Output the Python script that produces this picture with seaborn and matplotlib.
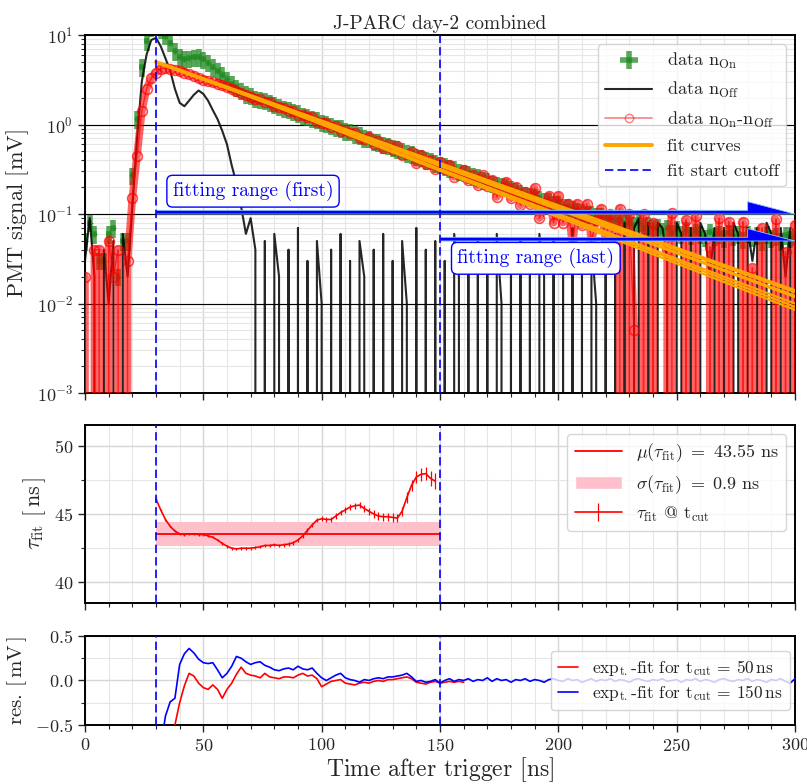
import numpy as np
import pandas as pd
import matplotlib
matplotlib.use("Agg")
import matplotlib.pyplot as plt
import seaborn as sns
from matplotlib.lines import Line2D
from matplotlib.ticker import MultipleLocator, FuncFormatter, LogLocator, NullFormatter

sns.set_theme(style="ticks")
plt.rcParams['font.family'] = ['cmr10', 'DejaVu Serif']
plt.rcParams['mathtext.fontset'] = 'cm'
plt.rcParams['axes.formatter.use_mathtext'] = True
plt.rcParams['axes.edgecolor'] = 'black'
plt.rcParams['axes.linewidth'] = 1.4

# ---- top panel: PMT signal, sampled every 2 ns ----
t_signal = np.arange(0, 302, 2)
n_off = [0.03, 0.09, 0.02, -0.01, 0.04, 0.01, 0.05, -0.02, 0.06, 0.02,
         0.12, 0.7, 3.0, 6.0, 8.8, 9.3, 7.5, 5.5, 4.0, 2.5,
         1.75, 1.6, 1.85, 2.15, 2.4, 2.2, 1.85, 1.45, 1.15, 0.85,
         0.6, 0.35, 0.22, 0.12, 0.06, 0.09, 0.04,
         -0.01, 0.05, -0.02, 0.06, 0.02, -0.03, 0.04, -0.01, 0.07, -0.02,
         0.03, -0.04, 0.05, 0.01, -0.02, 0.04, -0.03, 0.06, -0.01, 0.03,
         -0.02, 0.05, 0.02, -0.03, 0.04, -0.01, 0.06, -0.02, 0.03, -0.04,
         0.05, 0.01, -0.02, 0.07, -0.03, 0.04, -0.01, 0.05, -0.02, 0.03,
         -0.03, 0.06, 0.02, -0.02, 0.04, -0.01, 0.05, -0.03, 0.03, -0.02,
         0.06, 0.01, -0.03, 0.04, -0.02, 0.05, -0.01, 0.03, -0.04, 0.06,
         0.02, -0.02, 0.05, -0.03, 0.04, -0.01, 0.07, -0.02, 0.03, -0.03,
         0.05, 0.01, -0.02, 0.04, -0.01, 0.06,
         -0.03, 0.08, -0.02, 0.07, 0.09, -0.03, 0.08, -0.01, 0.08, 0.07,
         0.03, -0.04, 0.08, 0.06, -0.02, 0.07, -0.03, 0.08, 0.06, 0.02,
         0.07, -0.03, 0.07, -0.02, 0.08, 0.06, -0.03, 0.07, 0.03, 0.07,
         -0.02, 0.08, 0.06, -0.03, 0.07, 0.02, 0.07, -0.02]
n_on = [0.05, 0.08, 0.06, 0.03, 0.03, 0.06, 0.07, 0.02, 0.05, 0.05,
        0.27, 1.15, 4.4, 8.5, 12.1, 13.1, 11.7, 9.8, 8.2, 6.6,
        5.7, 5.4, 5.5, 5.65, 5.7, 5.35, 4.9, 4.4, 4.0, 3.6,
        3.2, 2.85, 2.6, 2.4, 2.2, 2.1, 1.95,
        1.90, 1.84, 1.76, 1.66, 1.60, 1.51, 1.47, 1.39, 1.35, 1.27,
        1.23, 1.16, 1.13, 1.06, 1.03, 0.98, 0.93, 0.91, 0.85, 0.83,
        0.78, 0.76, 0.71, 0.70, 0.65, 0.64, 0.60, 0.58, 0.55, 0.53,
        0.51, 0.48, 0.47, 0.44, 0.43, 0.40, 0.395, 0.37, 0.36, 0.345,
        0.325, 0.32, 0.30, 0.29, 0.28, 0.265, 0.26, 0.24, 0.235, 0.22,
        0.215, 0.205, 0.20, 0.19, 0.18, 0.175, 0.165, 0.16, 0.155, 0.15,
        0.14, 0.14, 0.13, 0.13, 0.12, 0.12, 0.115, 0.11, 0.105, 0.10,
        0.10, 0.095, 0.095, 0.09, 0.09, 0.085,
        0.085, 0.08, 0.08, 0.075, 0.08, 0.07, 0.075, 0.07, 0.072, 0.065,
        0.07, 0.062, 0.068, 0.06, 0.066, 0.058, 0.064, 0.06, 0.055, 0.063,
        0.057, 0.06, 0.054, 0.062, 0.056, 0.06, 0.052, 0.061, 0.055, 0.058,
        0.05, 0.06, 0.054, 0.057, 0.05, 0.058, 0.053, 0.056]
on_rel_err = 0.22
n_diff = np.array(n_on) - np.array(n_off)

# fit curves: start time, value at start, value at 300 ns
fit_start = [30, 50, 70, 90, 110, 130, 150]
fit_start_val = [5.0, 3.2, 2.05, 1.31, 0.843, 0.541, 0.347]
fit_end_val = [0.0138, 0.0100, 0.0085, 0.0092, 0.0122, 0.0118, 0.0135]
cut_lines = [30, 150]

# ---- middle panel: fitted decay time vs cut ----
t_cut = np.arange(30, 150, 2)
tau_fit = [46.1, 45.3, 44.6, 44.1, 43.75, 43.55, 43.5, 43.55, 43.55, 43.5,
           43.5, 43.4, 43.3, 43.1, 42.85, 42.65, 42.5, 42.45, 42.5, 42.5,
           42.5, 42.55, 42.6, 42.7, 42.7, 42.75, 42.7, 42.75, 42.8, 42.9,
           43.1, 43.4, 43.8, 44.2, 44.55, 44.65, 44.6, 44.6, 44.85, 45.1,
           45.3, 45.5, 45.6, 45.65, 45.4, 45.2, 45.0, 44.85, 44.8, 44.8,
           44.75, 44.7, 45.2, 46.2, 47.1, 47.7, 47.9, 47.95, 47.6, 47.4]
tau_err = [0.12, 0.10, 0.09, 0.08, 0.08, 0.08, 0.08, 0.08, 0.08, 0.08,
           0.08, 0.09, 0.09, 0.09, 0.09, 0.10, 0.10, 0.10, 0.10, 0.11,
           0.11, 0.11, 0.12, 0.12, 0.12, 0.12, 0.13, 0.13, 0.13, 0.14,
           0.14, 0.15, 0.15, 0.16, 0.16, 0.18, 0.18, 0.19, 0.19, 0.20,
           0.21, 0.22, 0.23, 0.24, 0.25, 0.25, 0.26, 0.27, 0.28, 0.29,
           0.30, 0.32, 0.34, 0.37, 0.40, 0.43, 0.46, 0.50, 0.55, 0.60]
tau_mean = 43.55
tau_sigma = 0.9

# ---- bottom panel: residuals ----
t_res_150 = np.arange(32, 302, 2)
res_150 = [-0.75, -0.40, -0.24, -0.20, 0.18, 0.30, 0.36, 0.31, 0.24, 0.20,
           0.19, 0.20, 0.12, 0.03, 0.08, 0.16, 0.27, 0.25, 0.21, 0.18,
           0.20, 0.21, 0.17, 0.15, 0.12, 0.11, 0.13, 0.14, 0.12, 0.16,
           0.13, 0.12, 0.14, 0.08, 0.03, 0.00, 0.03, 0.06, 0.08, 0.03,
           0.01, 0.00, -0.02, 0.01, 0.00, 0.02, 0.03, 0.02, 0.04, 0.04,
           0.05, 0.06, 0.08, 0.04, -0.01, 0.00, -0.02, -0.01, 0.01, -0.03,
           0.00, 0.02, -0.01, 0.01, 0.00, 0.02, -0.01, 0.01, 0.00, 0.03,
           -0.01, 0.02, 0.00, 0.01, -0.02, 0.01, 0.00, 0.02, -0.01, 0.01,
           0.00, -0.02, 0.01, 0.02, 0.00, -0.01, 0.02, 0.00, 0.01, -0.02,
           0.00, 0.02, -0.01, 0.01, 0.00, 0.02, -0.01, 0.01, 0.00, -0.02,
           0.01, 0.02, 0.00, -0.01, 0.01, 0.00, 0.02, -0.01, 0.00, 0.01,
           -0.02, 0.01, 0.00, 0.02, -0.01, 0.01, 0.00, -0.02, 0.01, 0.02,
           0.00, -0.01, 0.01, 0.00, 0.02, -0.01, 0.01, 0.00, -0.02, 0.01,
           0.00, 0.02, -0.01, -0.03, 0.02]
t_res_50 = np.arange(36, 162, 2)
res_50 = [-0.75, -0.50, -0.25, -0.06, 0.08, 0.05, -0.03, -0.08, -0.10, -0.05,
          -0.10, -0.20, -0.10, -0.03, 0.07, 0.15, 0.08, 0.06, 0.05, 0.03,
          0.08, 0.04, 0.03, 0.02, 0.04, 0.04, 0.03, 0.06, 0.08, 0.05,
          0.06, 0.02, -0.07, -0.04, -0.01, 0.00, 0.01, -0.03, -0.04, -0.05,
          -0.03, -0.02, -0.03, -0.01, 0.00, -0.01, 0.01, 0.01, 0.02, 0.03,
          0.04, 0.02, -0.02, -0.03, -0.04, -0.02, -0.01, -0.03, -0.02, -0.01,
          -0.02, -0.01, -0.02]

fig = plt.figure(figsize=(8.07, 7.84), dpi=100)
ax1 = fig.add_axes([0.1053, 0.4987, 0.8798, 0.4566])
ax2 = fig.add_axes([0.1053, 0.2309, 0.8798, 0.2270], sharex=ax1)
ax3 = fig.add_axes([0.1053, 0.0753, 0.8798, 0.1135], sharex=ax1)

# top panel
eb = ax1.errorbar(t_signal, n_on, xerr=1.0, yerr=on_rel_err * np.array(n_on),
                  fmt='+', color='forestgreen', alpha=0.75, ms=5, lw=2.5,
                  elinewidth=4.0, zorder=2)
sns.lineplot(x=t_signal, y=n_off, color='black', lw=1.5, alpha=0.85,
             estimator=None, sort=False, ax=ax1, zorder=3)
off_line = ax1.lines[-1]
# dense band of the subtracted trace, then the open-circle samples on top
sns.lineplot(x=t_signal, y=n_diff, color='red', lw=5.5, alpha=0.6,
             estimator=None, sort=False, ax=ax1, zorder=4)
sns.lineplot(x=t_signal, y=n_diff, color='red', lw=1.0, alpha=0.7,
             marker='o', markersize=7, markerfacecolor='none',
             markeredgecolor='red', markeredgewidth=1.2,
             estimator=None, sort=False, ax=ax1, zorder=4.1)
diff_handle = Line2D([], [], color='red', alpha=0.5, lw=1.2, marker='o', ms=6,
                     mfc='none', mec='red')
fit_lines = []
for i, (ts, vs, ve) in enumerate(zip(fit_start, fit_start_val, fit_end_val)):
    ln, = ax1.plot([ts, 300], [vs, ve], color='orange',
                   lw=2.8 if i == 0 else 1.6, zorder=5)
    fit_lines.append(ln)
ax1.set_yscale('log')
ax1.set_ylim(1e-3, 1e1)
ax1.set_xlim(0, 300)
for lv in [1.0, 0.1, 0.01]:
    ax1.axhline(lv, color='black', lw=0.8, zorder=1.5)

# fitting range arrows (upper half-head)
for x0, y0 in [(30, 0.1), (150, 0.05)]:
    ax1.arrow(x0, y0, 300 - x0, 0, width=0.2 * y0, head_width=0.75 * y0,
              head_length=20, length_includes_head=True, shape='right',
              fc='blue', ec='lightskyblue', lw=0.6, zorder=6)
box = dict(boxstyle='round,pad=0.3', fc='white', ec='blue', lw=1.0)
ax1.text(71, 0.18, 'fitting range (first)', color='blue', fontsize=14,
         ha='center', va='center', bbox=box, zorder=8)
ax1.text(190.5, 0.032, 'fitting range (last)', color='blue', fontsize=14,
         ha='center', va='center', bbox=box, zorder=8)

# middle panel
ax2.fill_between(cut_lines, tau_mean - tau_sigma, tau_mean + tau_sigma,
                 color='pink', lw=0, zorder=2)
mu_line, = ax2.plot(cut_lines, [tau_mean, tau_mean], color='red', lw=1.3, zorder=3)
eb2 = ax2.errorbar(t_cut, tau_fit, yerr=tau_err, fmt='-', color='red',
                   lw=1.2, elinewidth=0.9, zorder=4)
ax2.set_ylim(38.5, 51.5)

# bottom panel
sns.lineplot(x=t_res_50, y=res_50, color='red', lw=1.2, estimator=None,
             sort=False, ax=ax3, zorder=3,
             label=r'exp$_\mathrm{t.}$-fit for t$_\mathrm{cut}$ = 50$\,$ns')
sns.lineplot(x=t_res_150, y=res_150, color='blue', lw=1.2, estimator=None,
             sort=False, ax=ax3, zorder=4,
             label=r'exp$_\mathrm{t.}$-fit for t$_\mathrm{cut}$ = 150$\,$ns')
ax3.set_ylim(-0.5, 0.5)

cut_handle = None
for ax in (ax1, ax2, ax3):
    for c in cut_lines:
        vl = ax.axvline(c, color='blue', ls=(0, (5, 2.5)), lw=1.2, zorder=7)
        if cut_handle is None:
            cut_handle = vl
    ax.xaxis.set_major_locator(MultipleLocator(50))
    ax.xaxis.set_minor_locator(MultipleLocator(10))
    ax.grid(which='major', color='#d6d6d6', lw=1.0, zorder=0)
    ax.grid(which='minor', color='#e6e6e6', lw=0.8, zorder=0)
    ax.set_axisbelow(True)
    ax.tick_params(which='major', labelsize=13, length=5, width=1.0, direction='out')
    ax.tick_params(which='minor', length=3, width=0.8, direction='out')

ax1.yaxis.set_major_locator(LogLocator(base=10, numticks=10))
ax1.yaxis.set_minor_locator(LogLocator(base=10, subs=np.arange(2, 10), numticks=20))
ax1.yaxis.set_minor_formatter(NullFormatter())
ax2.yaxis.set_major_locator(MultipleLocator(5))
ax2.yaxis.set_minor_locator(MultipleLocator(2.5))
ax3.yaxis.set_major_locator(MultipleLocator(0.5))
ax3.yaxis.set_minor_locator(MultipleLocator(0.25))
ax3.yaxis.set_major_formatter(FuncFormatter(lambda v, _: f'${v:.1f}$'))
plt.setp(ax1.get_xticklabels(), visible=False)
plt.setp(ax2.get_xticklabels(), visible=False)

ax1.set_title('J-PARC day-2 combined', fontsize=14, pad=4)
ax1.set_ylabel(r'PMT signal $[\mathrm{mV}]$', fontsize=16)
ax2.set_ylabel(r'$\tau_\mathrm{fit}$ $[\,\mathrm{ns}\,]$', fontsize=16)
ax3.set_ylabel(r'res. $[\,\mathrm{mV}\,]$', fontsize=15)
ax3.set_xlabel(r'Time after trigger $[\mathrm{ns}]$', fontsize=17, labelpad=1)

# legends
ax1.legend([eb, off_line, diff_handle, fit_lines[0], cut_handle],
           [r'data n$_\mathrm{On}$', r'data n$_\mathrm{Off}$',
            r'data n$_\mathrm{On}$-n$_\mathrm{Off}$', 'fit curves',
            'fit start cutoff'],
           loc='upper right', fontsize=13, handlelength=2.6)
ax2.legend([mu_line, plt.Rectangle((0, 0), 1, 1, fc='pink'), eb2],
           [rf'$\mu(\tau_\mathrm{{fit}})\ =\ {tau_mean}$ ns',
            rf'$\sigma(\tau_\mathrm{{fit}})\ =\ {tau_sigma}$ ns',
            r'$\tau_\mathrm{fit}$ @ t$_\mathrm{cut}$'],
           loc='upper right', fontsize=13, handlelength=2.6)
ax3.legend(loc='center right', fontsize=12.5, handlelength=1.2,
           labelspacing=0.3, borderaxespad=0.3)

fig.savefig('out.png', dpi=100)
